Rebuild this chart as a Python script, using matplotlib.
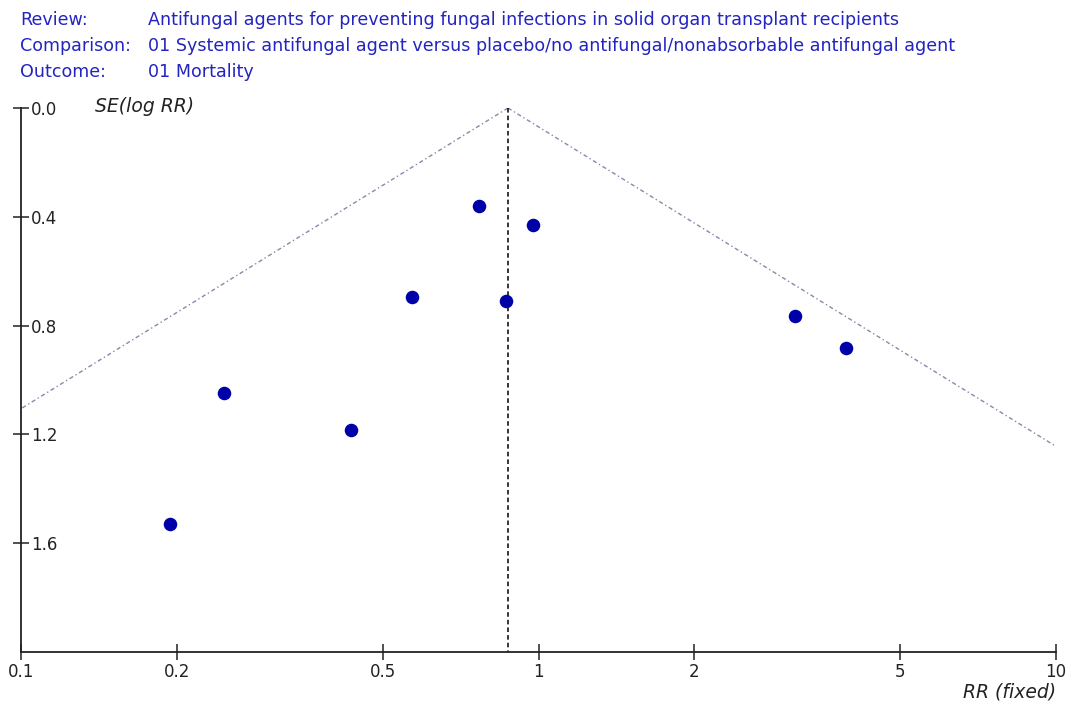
import numpy as np
import matplotlib.pyplot as plt

plt.rcParams['font.family'] = ['DejaVu Sans']

# header text
header_keys = ["Review:", "Comparison:", "Outcome:"]
header_vals = ["Antifungal agents for preventing fungal infections in solid organ transplant recipients",
               "01 Systemic antifungal agent versus placebo/no antifungal/nonabsorbable antifungal agent",
               "01 Mortality"]

# study estimates
rr = [0.767, 0.976, 0.570, 0.865, 3.13, 3.93, 0.247, 0.434, 0.194]
se = [0.360, 0.429, 0.694, 0.708, 0.763, 0.884, 1.046, 1.182, 1.530]
pooled_rr = 0.873

xticks = [0.1, 0.2, 0.5, 1, 2, 5, 10]
xticklabels = ["0.1", "0.2", "0.5", "1", "2", "5", "10"]
yticks = [0.0, 0.4, 0.8, 1.2, 1.6]

W, H = 1071, 705
fig = plt.figure(figsize=(W / 100, H / 100), dpi=100)
ax = fig.add_axes([21 / W, 1 - 652 / H, 1035 / W, 544 / H])

# funnel (95% limits)
se_line = np.array([0.0, 2.0])
ax.plot(pooled_rr * np.exp(-1.96 * se_line), se_line, color='#8888a8', lw=1,
        linestyle=(0, (3, 2, 1, 2)))
ax.plot(pooled_rr * np.exp(1.96 * se_line), se_line, color='#8888a8', lw=1,
        linestyle=(0, (3, 2, 1, 2)))
ax.plot([pooled_rr, pooled_rr], [0, 2.0], color='black', lw=1.1, linestyle=(0, (3, 2)))

ax.scatter(rr, se, s=95, color='#0000a8', zorder=3, linewidths=0)

ax.set_xscale('log')
ax.set_xlim(0.1, 10)
ax.set_ylim(2.0, 0.0)
ax.set_xticks(xticks)
ax.set_xticklabels(xticklabels)
ax.minorticks_off()
ax.set_yticks(yticks)
ax.set_yticklabels([f"{v:.1f}" for v in yticks])

for s in ['top', 'right']:
    ax.spines[s].set_visible(False)
for s in ['left', 'bottom']:
    ax.spines[s].set_linewidth(1.3)
    ax.spines[s].set_color('#222222')

ax.tick_params(axis='x', direction='inout', length=12, width=1.1, labelsize=12, pad=2,
               colors='#222222')
ax.tick_params(axis='y', direction='inout', length=12, width=1.1, labelsize=12,
               pad=-13, colors='#222222')
for lab in ax.get_yticklabels():
    lab.set_horizontalalignment('left')

fig.text(95 / W, 1 - 106 / H, "SE(log RR)", fontsize=13.5, style='italic',
         ha='left', va='center', color='#222222')
fig.text(1056 / W, 1 - 692 / H, "RR (fixed)", fontsize=13.5, style='italic',
         ha='right', va='center', color='#222222')

for i, (k, v) in enumerate(zip(header_keys, header_vals)):
    y = 1 - (25 + 26 * i) / H
    fig.text(20 / W, y, k, fontsize=12.6, color='#2424c0', va='baseline')
    fig.text(148 / W, y, v, fontsize=12.6, color='#2424c0', va='baseline')

fig.savefig("out.png", dpi=100)
